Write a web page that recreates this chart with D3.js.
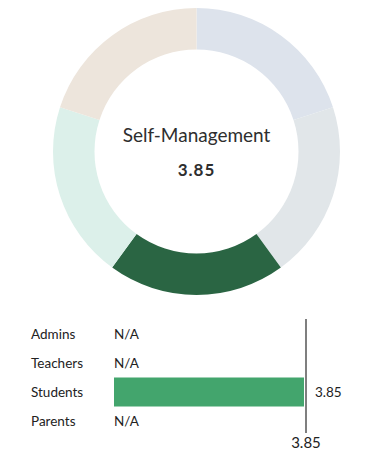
<!DOCTYPE html>
<html>
<head>
<meta charset="utf-8">
<script src="https://cdn.jsdelivr.net/npm/d3@7"></script>
<style>
  body { margin: 0; background: #fff; }
  text { font-family: Lato, "Open Sans", sans-serif; }
</style>
</head>
<body>
<div id="graphic"></div>
<script>
// donut segments (equal parts, one highlighted)
let segments = ["Seg1", "Seg2", "Seg3", "Seg4", "Seg5"];
let segmentValues = [1, 1, 1, 1, 1];
let segmentColors = ["#dde3ec", "#e1e6e9", "#2a6543", "#dcf0ea", "#ede5dc"];
let title = "Self-Management";
let score = 3.85;

// bar rows
let groups = ["Admins", "Teachers", "Students", "Parents"];
let groupValues = [null, null, 3.85, null];
let refValue = 3.85;

let width = 378, height = 465;

let svg = d3.select("#graphic")
  .append("svg")
    .attr("width", width)
    .attr("height", height);

// Donut
let cx = 196.5, cy = 151.5;
let pie = d3.pie().sort(null).value(d => d);
let arc = d3.arc().innerRadius(102).outerRadius(143.5);

let donut = svg.append("g")
    .attr("transform", "translate(" + cx + "," + cy + ")");

donut.selectAll("path")
  .data(pie(segmentValues))
  .enter()
  .append("path")
    .attr("d", arc)
    .attr("fill", (d, i) => segmentColors[i]);

donut.append("text")
    .attr("text-anchor", "middle")
    .attr("y", -10)
    .attr("fill", "#2e2e2e")
    .style("font-size", "19px")
    .text(title);

donut.append("text")
    .attr("text-anchor", "middle")
    .attr("y", 24)
    .attr("fill", "#2e2e2e")
    .style("font-size", "17px")
    .style("font-weight", "bold")
    .style("letter-spacing", "1px")
    .text(score.toFixed(2));

// Bars
let x = d3.scaleLinear()
  .domain([0, refValue])
  .range([114, 305]);

let y = d3.scaleBand()
  .domain(groups)
  .range([319.5, 435.5])
  .padding(0);

let rows = svg.append("g");

rows.selectAll(".label")
  .data(groups)
  .enter()
  .append("text")
    .attr("class", "label")
    .attr("x", 31)
    .attr("y", d => y(d) + y.bandwidth() / 2 + 4.5)
    .attr("fill", "#222")
    .style("font-size", "13.5px")
    .text(d => d);

rows.selectAll(".bar")
  .data(groups.filter((g, i) => groupValues[i] != null))
  .enter()
  .append("rect")
    .attr("class", "bar")
    .attr("x", x(0))
    .attr("y", d => y(d))
    .attr("width", d => x(groupValues[groups.indexOf(d)]) - x(0) - 1)
    .attr("height", y.bandwidth())
    .attr("fill", "#43a56d");

rows.selectAll(".val")
  .data(groups)
  .enter()
  .append("text")
    .attr("class", "val")
    .attr("x", (d, i) => groupValues[i] == null ? x(0) : x(refValue) + 10)
    .attr("y", d => y(d) + y.bandwidth() / 2 + 4.5)
    .attr("fill", "#222")
    .style("font-size", "13.5px")
    .text((d, i) => groupValues[i] == null ? "N/A" : groupValues[i].toFixed(2));

// reference line
svg.append("line")
    .attr("x1", x(refValue) + 1)
    .attr("x2", x(refValue) + 1)
    .attr("y1", 319)
    .attr("y2", 433)
    .attr("stroke", "#555")
    .attr("stroke-width", 1.5);

svg.append("text")
    .attr("x", x(refValue) + 1)
    .attr("y", 448)
    .attr("text-anchor", "middle")
    .attr("fill", "#222")
    .style("font-size", "15px")
    .text(refValue.toFixed(2));
</script>
</body>
</html>
